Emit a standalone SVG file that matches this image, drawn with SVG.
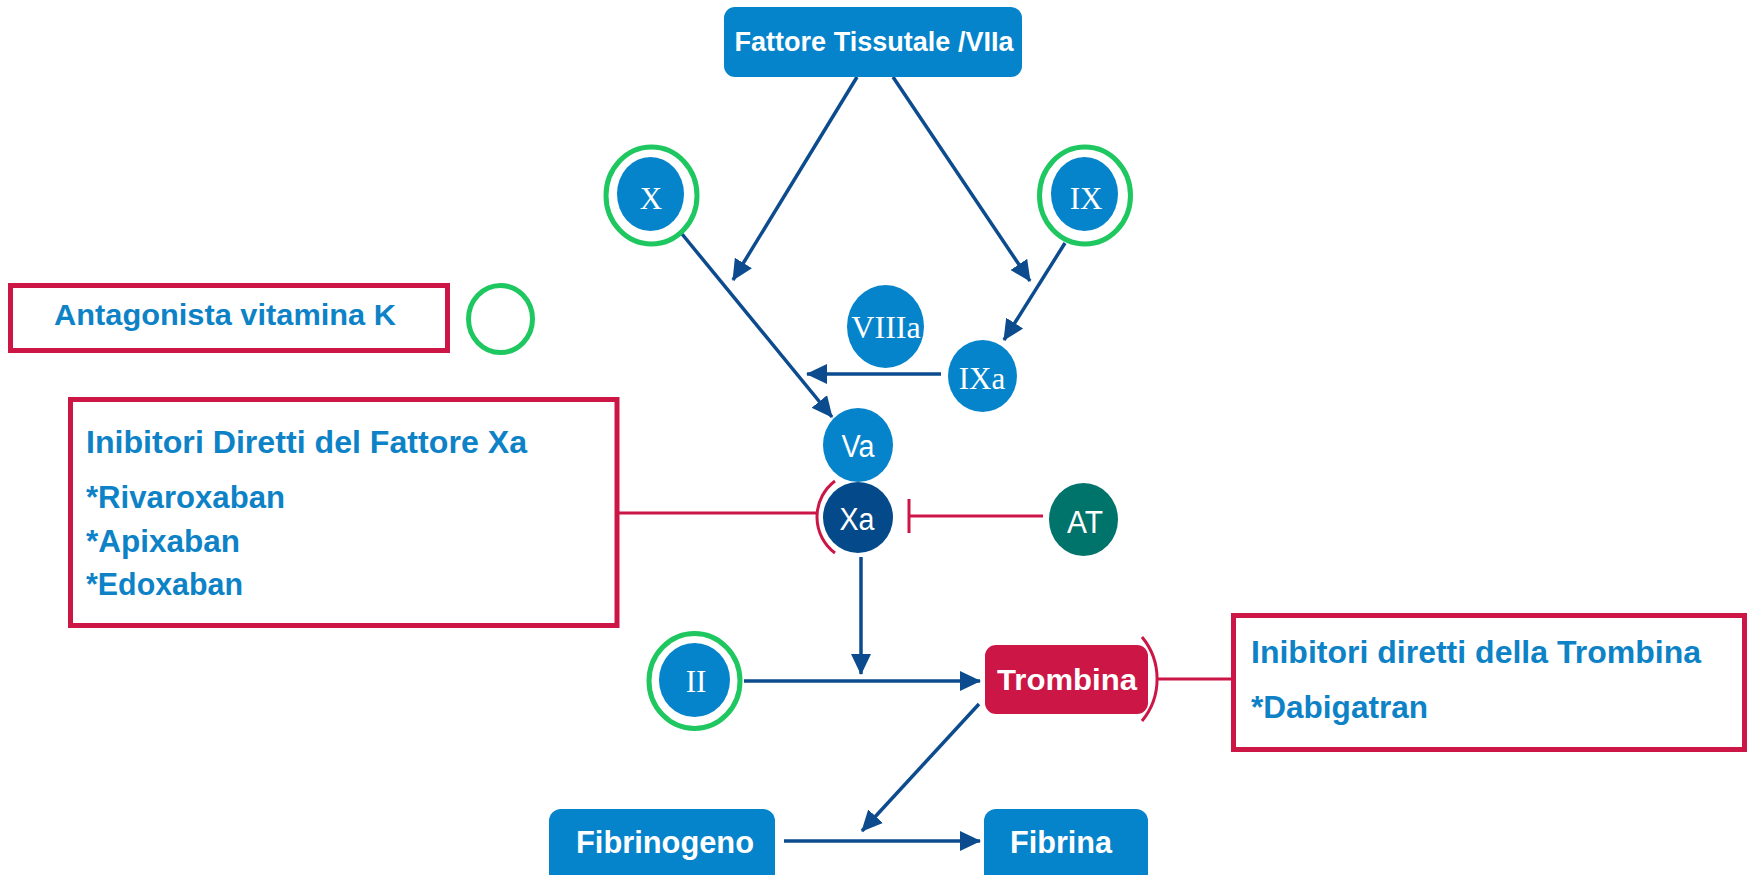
<svg xmlns="http://www.w3.org/2000/svg" width="1752" height="875" viewBox="0 0 1752 875">
<style>
.box{fill:#0584cc}
.circ{fill:#0584cc}
.ring{fill:none;stroke:#1ec760;stroke-width:5}
.wt{fill:#ffffff;font-family:"Liberation Sans",Arial,sans-serif;font-weight:bold;text-anchor:middle}
.ws{fill:#ffffff;font-family:"Liberation Serif","Times New Roman",serif;text-anchor:middle}
.wn{fill:#ffffff;font-family:"Liberation Sans",Arial,sans-serif;text-anchor:middle}
.bt{fill:#0e82c6;font-family:"Liberation Sans",Arial,sans-serif;font-weight:bold}
.rbox{fill:none;stroke:#cc1646;stroke-width:5}
.arr{fill:none;stroke:#0c4b8e;stroke-width:3.5;marker-end:url(#ah)}
.red{fill:none;stroke:#cc1646;stroke-width:3}
</style>
<defs>
<marker id="ah" markerUnits="userSpaceOnUse" markerWidth="22" markerHeight="22" refX="20" refY="11" orient="auto">
<path d="M0,1 L21,11 L0,21 z" fill="#0c4b8e"/>
</marker>
</defs>

<g id="connectors">
<line class="arr" x1="857" y1="77" x2="733" y2="280"/>
<line class="arr" x1="893" y1="77" x2="1030" y2="281"/>
<line class="arr" x1="682" y1="234" x2="832" y2="417"/>
<line class="arr" x1="1065" y1="243" x2="1004" y2="340"/>
<line class="arr" x1="941" y1="374" x2="807" y2="374"/>
<line class="arr" x1="861" y1="557" x2="861" y2="674"/>
<line class="arr" x1="744" y1="681" x2="980" y2="681"/>
<line class="arr" x1="979" y1="704" x2="862" y2="831"/>
<line class="arr" x1="784" y1="841" x2="980" y2="841"/>
<line class="red" x1="617" y1="513" x2="817" y2="513"/>
<path class="red" d="M835,481 A45,45 0 0,0 835,553"/>
<line class="red" x1="1043" y1="516" x2="909" y2="516"/>
<line class="red" x1="909" y1="499" x2="909" y2="533"/>
<path class="red" d="M1142,637 A66,66 0 0,1 1142,721"/>
<line class="red" x1="1157" y1="679" x2="1233" y2="679"/>
</g>

<g id="node-tf">
<rect class="box" x="724" y="7" width="298" height="70" rx="11"/>
<text class="wt" x="874" y="51" font-size="27" textLength="279" lengthAdjust="spacingAndGlyphs">Fattore Tissutale /VIIa</text>
</g>

<g id="node-x">
<ellipse class="ring" cx="651.5" cy="195.5" rx="45.5" ry="48.5"/>
<ellipse class="circ" cx="650.5" cy="194" rx="33.5" ry="37"/>
<text class="ws" x="651" y="209" font-size="31">X</text>
</g>

<g id="node-ix">
<ellipse class="ring" cx="1085" cy="195.5" rx="45.5" ry="48.5"/>
<ellipse class="circ" cx="1084.5" cy="194" rx="33.5" ry="37"/>
<text class="ws" x="1086" y="209" font-size="31">IX</text>
</g>

<g id="node-viiia">
<ellipse class="circ" cx="885.5" cy="326.5" rx="38.5" ry="41.5"/>
<text class="ws" x="886" y="338" font-size="32">VIIIa</text>
</g>

<g id="node-ixa">
<ellipse class="circ" cx="982.5" cy="376" rx="34.5" ry="36"/>
<text class="ws" x="982" y="389" font-size="31">IXa</text>
</g>

<g id="node-va">
<ellipse class="circ" cx="858" cy="445" rx="35" ry="37"/>
<text class="wn" x="858" y="457" font-size="31" textLength="33" lengthAdjust="spacingAndGlyphs">Va</text>
</g>

<g id="node-xa">
<ellipse cx="858" cy="517.5" rx="35" ry="35.5" fill="#044a8a"/>
<text class="wn" x="857" y="530" font-size="31" textLength="35" lengthAdjust="spacingAndGlyphs">Xa</text>
</g>

<g id="node-at">
<ellipse cx="1083.5" cy="519.5" rx="34.5" ry="36.5" fill="#00736a"/>
<text class="wn" x="1085" y="533" font-size="31" textLength="36" lengthAdjust="spacingAndGlyphs">AT</text>
</g>

<g id="node-ii">
<ellipse class="ring" cx="694.5" cy="681" rx="45.5" ry="47.5"/>
<ellipse class="circ" cx="694.5" cy="680" rx="35.5" ry="37"/>
<text class="ws" x="696" y="692" font-size="31">II</text>
</g>

<g id="node-trombina">
<rect x="985" y="645" width="163" height="69" rx="11" fill="#cc1646"/>
<text class="wt" x="1067" y="690" font-size="30" textLength="140" lengthAdjust="spacingAndGlyphs">Trombina</text>
</g>

<g id="node-fibrinogeno">
<rect class="box" x="549" y="809" width="226" height="80" rx="12"/>
<text class="wt" x="665" y="853" font-size="31" textLength="178" lengthAdjust="spacingAndGlyphs">Fibrinogeno</text>
</g>

<g id="node-fibrina">
<rect class="box" x="984" y="809" width="164" height="80" rx="12"/>
<text class="wt" x="1061" y="853" font-size="31" textLength="102" lengthAdjust="spacingAndGlyphs">Fibrina</text>
</g>

<g id="node-avk">
<rect class="rbox" x="10.5" y="285.5" width="437" height="65"/>
<text class="bt" x="54" y="325" font-size="30" textLength="342" lengthAdjust="spacingAndGlyphs">Antagonista vitamina K</text>
<ellipse cx="500.5" cy="319" rx="32" ry="33.5" fill="none" stroke="#1ec760" stroke-width="5"/>
</g>

<g id="node-dxa">
<rect class="rbox" x="70.5" y="399.5" width="546.5" height="226"/>
<text class="bt" x="86" y="453" font-size="32" textLength="441" lengthAdjust="spacingAndGlyphs">Inibitori Diretti del Fattore Xa</text>
<text class="bt" x="86" y="508" font-size="31" textLength="199" lengthAdjust="spacingAndGlyphs">*Rivaroxaban</text>
<text class="bt" x="86" y="552" font-size="31" textLength="154" lengthAdjust="spacingAndGlyphs">*Apixaban</text>
<text class="bt" x="86" y="595" font-size="31" textLength="157" lengthAdjust="spacingAndGlyphs">*Edoxaban</text>
</g>

<g id="node-dti">
<rect class="rbox" x="1233.5" y="615.5" width="511" height="134"/>
<text class="bt" x="1251" y="663" font-size="31" textLength="450" lengthAdjust="spacingAndGlyphs">Inibitori diretti della Trombina</text>
<text class="bt" x="1251" y="718" font-size="31" textLength="177" lengthAdjust="spacingAndGlyphs">*Dabigatran</text>
</g>
</svg>
